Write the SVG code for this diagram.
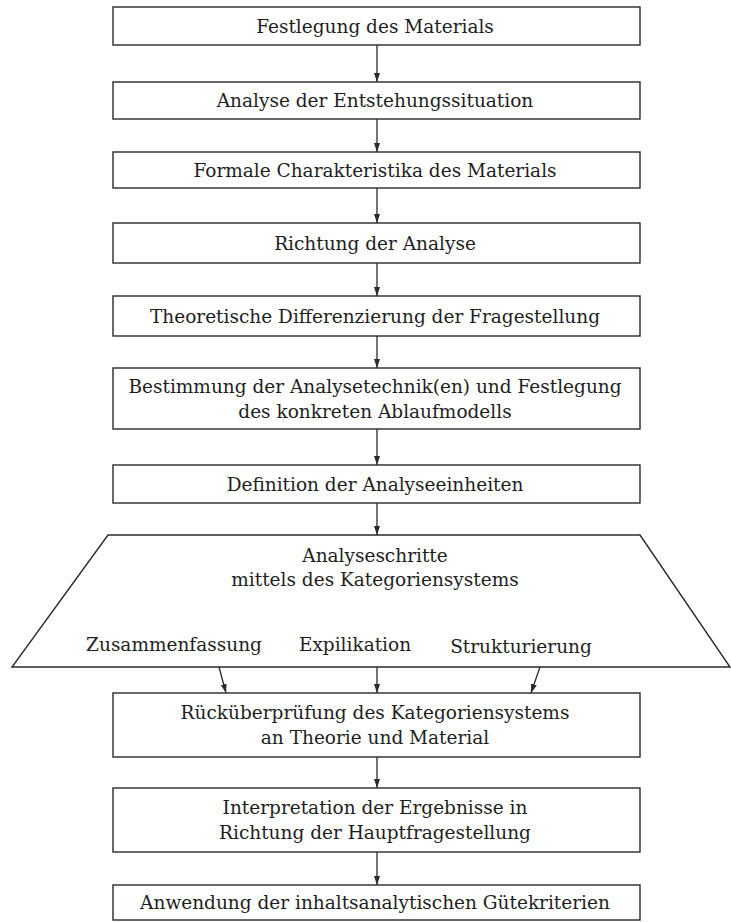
<svg xmlns="http://www.w3.org/2000/svg" width="731" height="922" viewBox="0 0 731 922">
<style>
.box{fill:#fff;stroke:#2a2a2a;stroke-width:1.4}
.t{font-family:"DejaVu Serif","Liberation Serif",serif;font-size:18.5px;fill:#1e1e1e;text-anchor:middle}
.c{stroke:#2a2a2a;stroke-width:1.3;fill:none}
</style>
<defs>
<marker id="ah" markerWidth="10" markerHeight="10" refX="9" refY="5" orient="auto" markerUnits="userSpaceOnUse">
<path d="M0,2 L9,5 L0,8 Z" fill="#2a2a2a"/>
</marker>
</defs>
<rect width="731" height="922" fill="#fff"/>
<g id="n1"><rect class="box" x="113" y="7" width="527" height="38"/><text class="t" x="375" y="33">Festlegung des Materials</text></g>
<g id="n2"><rect class="box" x="113" y="82" width="527" height="37"/><text class="t" x="375" y="107">Analyse der Entstehungssituation</text></g>
<g id="n3"><rect class="box" x="113" y="152" width="527" height="36"/><text class="t" x="375" y="177">Formale Charakteristika des Materials</text></g>
<g id="n4"><rect class="box" x="113" y="223" width="527" height="40"/><text class="t" x="375" y="250">Richtung der Analyse</text></g>
<g id="n5"><rect class="box" x="113" y="296" width="527" height="40"/><text class="t" x="375" y="323">Theoretische Differenzierung der Fragestellung</text></g>
<g id="n6"><rect class="box" x="113" y="368" width="527" height="61"/><text class="t" x="375" y="393">Bestimmung der Analysetechnik(en) und Festlegung</text><text class="t" x="375" y="418">des konkreten Ablaufmodells</text></g>
<g id="n7"><rect class="box" x="113" y="465" width="527" height="38"/><text class="t" x="375" y="491">Definition der Analyseeinheiten</text></g>
<g id="n8"><path class="box" d="M108,535 L640,535 L730,667 L12,667 Z"/><text class="t" x="375" y="562">Analyseschritte</text><text class="t" x="375" y="586">mittels des Kategoriensystems</text><text class="t" x="174" y="651">Zusammenfassung</text><text class="t" x="355" y="651">Expilikation</text><text class="t" x="521" y="653">Strukturierung</text></g>
<g id="n9"><rect class="box" x="113" y="693" width="527" height="64"/><text class="t" x="375" y="719">Rücküberprüfung des Kategoriensystems</text><text class="t" x="375" y="744">an Theorie und Material</text></g>
<g id="n10"><rect class="box" x="113" y="788" width="527" height="64"/><text class="t" x="375" y="814">Interpretation der Ergebnisse in</text><text class="t" x="375" y="839">Richtung der Hauptfragestellung</text></g>
<g id="n11"><rect class="box" x="113" y="885" width="527" height="35"/><text class="t" x="375" y="909">Anwendung der inhaltsanalytischen Gütekriterien</text></g>
<g id="connectors">
<line class="c" x1="377" y1="45" x2="377" y2="82" marker-end="url(#ah)"/>
<line class="c" x1="377" y1="119" x2="377" y2="152" marker-end="url(#ah)"/>
<line class="c" x1="377" y1="188" x2="377" y2="223" marker-end="url(#ah)"/>
<line class="c" x1="377" y1="263" x2="377" y2="296" marker-end="url(#ah)"/>
<line class="c" x1="377" y1="336" x2="377" y2="368" marker-end="url(#ah)"/>
<line class="c" x1="377" y1="429" x2="377" y2="465" marker-end="url(#ah)"/>
<line class="c" x1="377" y1="503" x2="377" y2="535" marker-end="url(#ah)"/>
<line class="c" x1="219" y1="667" x2="226" y2="693" marker-end="url(#ah)"/>
<line class="c" x1="377" y1="667" x2="377" y2="693" marker-end="url(#ah)"/>
<line class="c" x1="540" y1="667" x2="531" y2="693" marker-end="url(#ah)"/>
<line class="c" x1="377" y1="757" x2="377" y2="788" marker-end="url(#ah)"/>
<line class="c" x1="377" y1="852" x2="377" y2="885" marker-end="url(#ah)"/>
</g>
</svg>
